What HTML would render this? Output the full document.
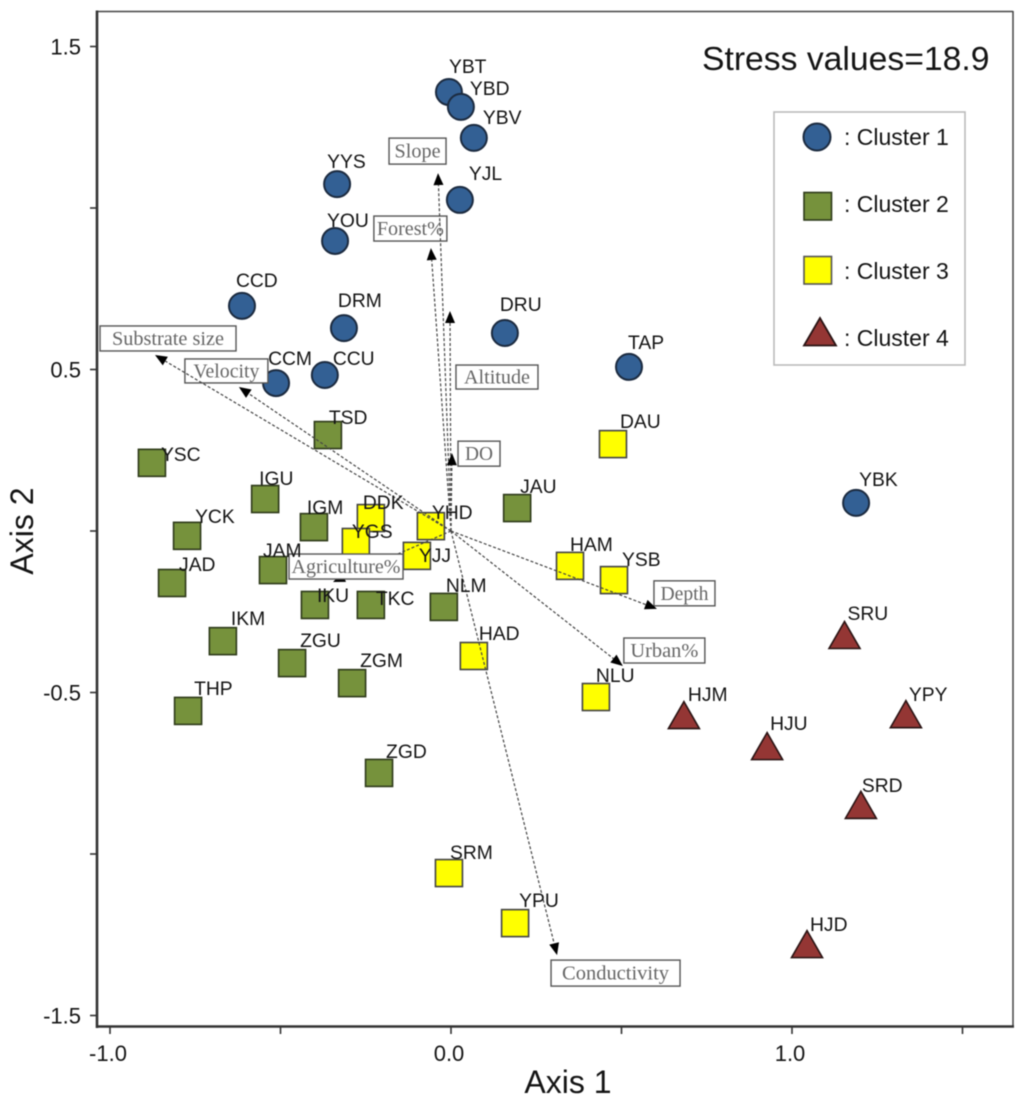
<!DOCTYPE html>
<html lang="en">
<head>
<meta charset="utf-8">
<title>NMDS ordination of sites</title>
<style>
html,body{margin:0;padding:0;background:#fff;width:1024px;height:1104px;overflow:hidden}
svg{display:block;filter:blur(0.45px)}
text{font-family:"Liberation Sans",sans-serif;fill:#141414}
.serif{font-family:"Liberation Serif",serif;fill:#666;font-size:20px}
</style>
</head>
<body>
<svg id="chart" xmlns="http://www.w3.org/2000/svg" width="1024" height="1104" viewBox="0 0 1024 1104">
  <rect x="0" y="0" width="1024" height="1104" fill="#fff"/>
  <line x1="97" y1="11.5" x2="1013" y2="11.5" stroke="#444" stroke-width="1.5"/>
  <line x1="1013" y1="11" x2="1013" y2="1027" stroke="#444" stroke-width="1.5"/>
  <line x1="97" y1="10.5" x2="97" y2="1028" stroke="#333" stroke-width="2.6"/>
  <line x1="96" y1="1026.5" x2="1014" y2="1026.5" stroke="#333" stroke-width="2.6"/>
  <g id="axes"></g>
  <g id="marks"></g>
  <g id="boxes"></g>
  <g id="vectors"></g>
  <g id="boxesTop"></g>
  <g id="labels"></g>
  <text x="568" y="1093" font-size="32" text-anchor="middle">Axis 1</text>
  <text transform="translate(33,531) rotate(-90)" font-size="32" text-anchor="middle">Axis 2</text>
  <text x="702" y="70" font-size="33.7">Stress values=18.9</text>
  <g>
    <rect x="774" y="112" width="191" height="253" fill="#fff" stroke="#bbb" stroke-width="1.6"/>
    <circle cx="817" cy="137" r="13.5" fill="#336094" stroke="#1c2b40" stroke-width="2"/>
    <text x="844" y="145" font-size="23">: Cluster 1</text>
    <rect x="804" y="192.5" width="27.5" height="27.5" fill="#76923c" stroke="#2e3a1a" stroke-width="1.6"/>
    <text x="844" y="212" font-size="23">: Cluster 2</text>
    <rect x="804" y="256.5" width="27.5" height="27.5" fill="#ffff00" stroke="#555" stroke-width="1.6"/>
    <text x="844" y="279" font-size="23">: Cluster 3</text>
    <polygon points="820,318 804,345.5 836,345.5" fill="#943634" stroke="#2a1414" stroke-width="1.8"/>
    <text x="844" y="346" font-size="23">: Cluster 4</text>
  </g>
</svg>
<script>
// ---- Chart data ----
const cluster1Sites = ['YBT','YBD','YBV','YYS','YJL','YOU','CCD','DRM','DRU','CCM','CCU','TAP','YBK'];
const cluster1X = [-0.006,0.029,0.067,-0.334,0.026,-0.340,-0.613,-0.314,0.158,-0.513,-0.370,0.522,1.188];
const cluster1Y = [1.359,1.313,1.217,1.074,1.025,0.898,0.697,0.628,0.613,0.458,0.483,0.508,0.087];

const cluster2Sites = ['TSD','YSC','IGU','YCK','IGM','JAU','JAM','JAD','IKU','TKC','NLM','IKM','ZGU','ZGM','THP','ZGD'];
const cluster2X = [-0.361,-0.877,-0.545,-0.774,-0.402,0.194,-0.522,-0.818,-0.399,-0.235,-0.021,-0.669,-0.466,-0.290,-0.771,-0.211];
const cluster2Y = [0.297,0.211,0.099,-0.015,0.012,0.071,-0.121,-0.161,-0.229,-0.229,-0.235,-0.341,-0.409,-0.471,-0.557,-0.749];

const cluster3Sites = ['DAU','DDK','YGS','YHD','YJJ','HAM','YSB','HAD','NLU','SRM','YPU'];
const cluster3X = [0.475,-0.235,-0.279,-0.059,-0.100,0.349,0.478,0.067,0.425,-0.006,0.188];
const cluster3Y = [0.269,0.040,-0.034,0.015,-0.077,-0.108,-0.152,-0.387,-0.514,-1.059,-1.214];

const cluster4Sites = ['HJM','HJU','SRU','YPY','SRD','HJD'];
const cluster4X = [0.683,0.927,1.154,1.334,1.202,1.044];
const cluster4Y = [-0.570,-0.666,-0.322,-0.567,-0.848,-1.279];

const vectorNames = ['Slope','Forest%','Altitude','DO','Substrate size','Velocity','Agriculture%','Depth','Urban%','Conductivity'];
const vectorX = [-0.038,-0.059,-0.003,0.003,-0.868,-0.622,-0.346,0.604,0.504,0.311];
const vectorY = [1.108,0.876,0.681,0.241,0.545,0.446,-0.158,-0.241,-0.418,-1.313];

const xTicks = [-1.0,-0.5,0,0.5,1.0,1.5];
const xTickLabels = ['-1.0','','0.0','','1.0',''];
const yTicks = [1.5,1.0,0.5,0,-0.5,-1.0,-1.5];
const yTickLabels = ['1.5','','0.5','','-0.5','','-1.5'];

// ---- Axis functions ----
function sx(v){ return 451 + 341 * v; }
function sy(v){ return 531 - 323 * v; }

// ---- Layout annotations (not data) ----
const siteLabelOffset = {
  YBT:[0,-19],YBD:[9,-12],YBV:[9,-14],YYS:[-10,-16],YJL:[9,-20],YOU:[-8,-14],CCD:[-6,-19],DRM:[-6,-21],DRU:[-5,-22],CCM:[-8,-18],CCU:[8,-10],TAP:[-1,-18],YBK:[3,-17],
  TSD:[1,-11],YSC:[9,-2],IGU:[-6,-14],YCK:[8,-13],IGM:[-7,-13],JAU:[3,-15],JAM:[-10,-13],JAD:[7,-12],IKU:[2,-3],TKC:[5,0],NLM:[2,-15],IKM:[8,-16],ZGU:[8,-16],ZGM:[8,-16],THP:[6,-16],ZGD:[7,-15],
  DAU:[7,-16],DDK:[-8,-9],YGS:[-4,-4],YHD:[1,-7],YJJ:[2,6],HAM:[0,-15],YSB:[8,-14],HAD:[5,-16],NLU:[0,-15],SRM:[1,-14],YPU:[4,-16],
  HJM:[4,-14],HJU:[3,-16],SRU:[3,-15],YPY:[3,-13],SRD:[1,-13],HJD:[3,-13]
};
const vectorBox = {
  'Slope':{dx:-49,dy:-35,w:57,h:26,tw:46},
  'Forest%':{dx:-57,dy:-32,w:73,h:25,tw:67},
  'Altitude':{dx:6,dy:54,w:82,h:24,tw:66},
  'DO':{dx:6,dy:-12,w:42,h:25,tw:28},
  'Substrate size':{dx:-55,dy:-29,w:136,h:25,tw:112},
  'Velocity':{dx:-54,dy:-28,w:83,h:24,tw:66},
  'Agriculture%':{dx:-44,dy:-28,w:114,h:25,tw:109,top:true},
  'Depth':{dx:-3,dy:-28,w:61,h:25,tw:48},
  'Urban%':{dx:1,dy:-28,w:81,h:25,tw:68},
  'Conductivity':{dx:-6,dy:5,w:129,h:26,tw:107}
};

const NS = 'http://www.w3.org/2000/svg';
function make(tag, attrs, parent){
  const el = document.createElementNS(NS, tag);
  for (const k in attrs) el.setAttribute(k, attrs[k]);
  parent.appendChild(el);
  return el;
}
function slug(s){ return s.toLowerCase().replace(/%/g,'-percent').replace(/[^a-z0-9]+/g,'-'); }

const axesG = document.getElementById('axes');
const marksG = document.getElementById('marks');
const boxesG = document.getElementById('boxes');
const boxesTopG = document.getElementById('boxesTop');
const vectorsG = document.getElementById('vectors');
const labelsG = document.getElementById('labels');

// Ticks
xTicks.forEach(function(t,i){
  const tick = make('line',{x1:sx(t),y1:1027,x2:sx(t),y2:1034,stroke:'#333','stroke-width':1.6},axesG);
  
  
  if (xTickLabels[i]) {
    const lab = make('text',{x:sx(t)-2,y:1061,'font-size':22,'text-anchor':'middle'},axesG);
    lab.textContent = xTickLabels[i];
    
    
  }
});
yTicks.forEach(function(t,i){
  const tick = make('line',{x1:90,y1:sy(t),x2:97,y2:sy(t),stroke:'#333','stroke-width':1.6},axesG);
  
  
  if (yTickLabels[i]) {
    const lab = make('text',{x:81,y:sy(t)+8,'font-size':22,'text-anchor':'end'},axesG);
    lab.textContent = yTickLabels[i];
    
    
  }
});

// Markers
function drawSites(sites, xs, ys, drawMark){
  sites.forEach(function(site,i){
    const px = sx(xs[i]), py = sy(ys[i]);
    const mark = drawMark(px,py);
    
    
    const off = siteLabelOffset[site] || [4,-14];
    const lab = make('text',{x:px+off[0],y:py+off[1],'font-size':19.3},labelsG);
    lab.textContent = site;
    
    
  });
}
drawSites(cluster1Sites,cluster1X,cluster1Y,function(px,py){
  return make('circle',{cx:px,cy:py,r:13,fill:'#336094',stroke:'#1c2b40','stroke-width':2},marksG);
});
drawSites(cluster2Sites,cluster2X,cluster2Y,function(px,py){
  return make('rect',{x:px-13.5,y:py-13.5,width:27,height:27,fill:'#76923c',stroke:'#2e3a1a','stroke-width':1.6},marksG);
});
drawSites(cluster3Sites,cluster3X,cluster3Y,function(px,py){
  return make('rect',{x:px-13.5,y:py-13.5,width:27,height:27,fill:'#ffff00',stroke:'#444','stroke-width':1.6},marksG);
});
drawSites(cluster4Sites,cluster4X,cluster4Y,function(px,py){
  const pts = [[px,py-13.5],[px-15.5,py+13.5],[px+15.5,py+13.5]].map(function(p){return p.join(',');}).join(' ');
  return make('polygon',{points:pts,fill:'#943634',stroke:'#2a1414','stroke-width':1.6},marksG);
});

// Vector label boxes and vectors
vectorNames.forEach(function(name,i){
  const tx = sx(vectorX[i]), ty = sy(vectorY[i]);
  const b = vectorBox[name];
  const parent = b.top ? boxesTopG : boxesG;
  const rect = make('rect',{x:tx+b.dx,y:ty+b.dy,width:b.w,height:b.h,fill:'#fff',stroke:'#555','stroke-width':1.4},parent);
  
  
  const t = make('text',{x:tx+b.dx+b.w/2,y:ty+b.dy+b.h/2+6.5,'text-anchor':'middle','class':'serif',textLength:b.tw,lengthAdjust:'spacingAndGlyphs'},parent);
  t.textContent = name;
  
  

  const ox = sx(0), oy = sy(0);
  const dx = tx-ox, dy = ty-oy, len = Math.sqrt(dx*dx+dy*dy) || 1;
  const ux = dx/len, uy = dy/len;
  const baseX = tx-ux*12, baseY = ty-uy*12;
  const line = make('line',{x1:ox,y1:oy,x2:baseX,y2:baseY,stroke:'#444','stroke-width':1.2,'stroke-dasharray':'3 2'},vectorsG);
  
  
  const pts = [[tx,ty],[baseX-uy*5,baseY+ux*5],[baseX+uy*5,baseY-ux*5]].map(function(p){return p.join(',');}).join(' ');
  const head = make('polygon',{points:pts,fill:'#000'},vectorsG);
  
  
});
</script>
</body>
</html>
